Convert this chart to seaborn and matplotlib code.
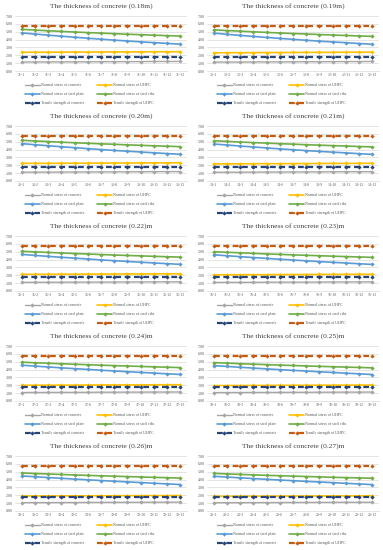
import matplotlib
matplotlib.use("Agg")
import matplotlib.pyplot as plt
import seaborn as sns
import pandas as pd
from matplotlib.lines import Line2D

sns.set_theme(style="white")
plt.rcParams['font.family'] = ['Liberation Serif', 'DejaVu Serif']

titles = ["The thickness of concrete (0.18m)", "The thickness of concrete (0.19m)",
          "The thickness of concrete (0.20m)", "The thickness of concrete (0.21m)",
          "The thickness of concrete (0.22)m", "The thickness of concrete (0.23)m",
          "The thickness of concrete (0.24)m", "The thickness of concrete (0.25)m",
          "The thickness of concrete (0.26)m", "The thickness of concrete (0.27)m"]
prefixes = ["11", "12", "13", "14", "15", "16", "17", "18", "19", "20"]
steps = ["1", "2", "3", "4", "5", "6", "7", "8", "9", "10", "11", "12", "13"]

concrete = [
    [1.14, 1.15, 1.15, 1.16, 1.17, 1.17, 1.18, 1.19, 1.19, 1.20, 1.21, 1.21, 1.22],
    [1.13, 1.14, 1.14, 1.15, 1.16, 1.16, 1.17, 1.18, 1.18, 1.19, 1.20, 1.20, 1.21],
    [1.12, 1.13, 1.13, 1.14, 1.15, 1.15, 1.16, 1.17, 1.17, 1.18, 1.19, 1.19, 1.20],
    [1.11, 1.12, 1.12, 1.13, 1.14, 1.14, 1.15, 1.16, 1.16, 1.17, 1.18, 1.18, 1.19],
    [1.10, 1.11, 1.11, 1.12, 1.13, 1.13, 1.14, 1.14, 1.15, 1.16, 1.16, 1.17, 1.17],
    [1.09, 1.10, 1.10, 1.11, 1.12, 1.12, 1.13, 1.13, 1.14, 1.15, 1.15, 1.16, 1.16],
    [1.08, 1.09, 1.09, 1.10, 1.10, 1.11, 1.12, 1.12, 1.13, 1.13, 1.14, 1.14, 1.15],
    [1.07, 1.08, 1.08, 1.09, 1.09, 1.10, 1.11, 1.11, 1.12, 1.12, 1.13, 1.13, 1.14],
    [1.06, 1.07, 1.07, 1.08, 1.08, 1.09, 1.10, 1.10, 1.11, 1.11, 1.12, 1.12, 1.13],
    [1.05, 1.06, 1.06, 1.07, 1.07, 1.08, 1.09, 1.09, 1.10, 1.10, 1.11, 1.11, 1.12],
]
uhpc = [
    [2.38, 2.39, 2.39, 2.40, 2.41, 2.41, 2.42, 2.43, 2.43, 2.44, 2.45, 2.45, 2.46],
    [2.32, 2.33, 2.33, 2.34, 2.35, 2.35, 2.36, 2.37, 2.37, 2.38, 2.39, 2.39, 2.40],
    [2.24, 2.25, 2.25, 2.26, 2.27, 2.27, 2.28, 2.29, 2.29, 2.30, 2.31, 2.31, 2.32],
    [2.18, 2.19, 2.19, 2.20, 2.21, 2.21, 2.22, 2.22, 2.23, 2.24, 2.24, 2.25, 2.26],
    [2.12, 2.13, 2.13, 2.14, 2.14, 2.15, 2.16, 2.16, 2.17, 2.17, 2.18, 2.19, 2.19],
    [2.06, 2.07, 2.07, 2.08, 2.08, 2.09, 2.10, 2.10, 2.11, 2.11, 2.12, 2.13, 2.13],
    [2.00, 2.01, 2.01, 2.02, 2.02, 2.03, 2.04, 2.04, 2.05, 2.05, 2.06, 2.07, 2.07],
    [1.96, 1.97, 1.97, 1.98, 1.98, 1.99, 2.00, 2.00, 2.01, 2.01, 2.02, 2.02, 2.03],
    [1.90, 1.91, 1.91, 1.92, 1.92, 1.93, 1.94, 1.94, 1.95, 1.95, 1.96, 1.96, 1.97],
    [1.86, 1.87, 1.87, 1.88, 1.88, 1.89, 1.90, 1.90, 1.91, 1.91, 1.92, 1.92, 1.93],
]
plate = [
    [4.85, 4.70, 4.56, 4.43, 4.30, 4.17, 4.05, 3.93, 3.82, 3.71, 3.61, 3.51, 3.41],
    [4.82, 4.67, 4.53, 4.40, 4.27, 4.15, 4.03, 3.91, 3.80, 3.70, 3.60, 3.50, 3.40],
    [4.76, 4.62, 4.49, 4.36, 4.24, 4.12, 4.00, 3.89, 3.79, 3.69, 3.59, 3.49, 3.40],
    [4.71, 4.58, 4.45, 4.33, 4.21, 4.09, 3.98, 3.87, 3.77, 3.67, 3.58, 3.48, 3.39],
    [4.66, 4.53, 4.41, 4.29, 4.18, 4.07, 3.96, 3.86, 3.76, 3.66, 3.57, 3.48, 3.39],
    [4.61, 4.49, 4.37, 4.26, 4.15, 4.04, 3.94, 3.84, 3.74, 3.65, 3.56, 3.47, 3.38],
    [4.56, 4.44, 4.33, 4.22, 4.12, 4.02, 3.92, 3.82, 3.73, 3.64, 3.55, 3.46, 3.38],
    [4.51, 4.40, 4.29, 4.19, 4.09, 3.99, 3.90, 3.81, 3.72, 3.63, 3.54, 3.46, 3.37],
    [4.47, 4.36, 4.26, 4.16, 4.06, 3.97, 3.88, 3.79, 3.70, 3.62, 3.53, 3.45, 3.37],
    [4.42, 4.32, 4.22, 4.13, 4.03, 3.94, 3.86, 3.77, 3.69, 3.61, 3.52, 3.44, 3.36],
]
ribs = [
    [5.30, 5.21, 5.12, 5.04, 4.96, 4.89, 4.82, 4.75, 4.68, 4.62, 4.56, 4.50, 4.45],
    [5.24, 5.15, 5.07, 4.99, 4.91, 4.84, 4.77, 4.71, 4.64, 4.58, 4.52, 4.46, 4.41],
    [5.18, 5.10, 5.02, 4.94, 4.87, 4.80, 4.73, 4.67, 4.60, 4.54, 4.48, 4.43, 4.37],
    [5.12, 5.04, 4.96, 4.89, 4.82, 4.75, 4.69, 4.62, 4.56, 4.50, 4.45, 4.39, 4.34],
    [5.06, 4.98, 4.91, 4.84, 4.77, 4.71, 4.64, 4.58, 4.52, 4.47, 4.41, 4.36, 4.31],
    [5.00, 4.93, 4.86, 4.79, 4.72, 4.66, 4.60, 4.54, 4.49, 4.43, 4.38, 4.33, 4.28],
    [4.94, 4.87, 4.80, 4.74, 4.68, 4.62, 4.56, 4.50, 4.45, 4.40, 4.35, 4.30, 4.25],
    [4.89, 4.82, 4.75, 4.69, 4.63, 4.57, 4.52, 4.46, 4.41, 4.36, 4.31, 4.27, 4.22],
    [4.84, 4.77, 4.71, 4.65, 4.59, 4.53, 4.48, 4.43, 4.38, 4.33, 4.28, 4.24, 4.19],
    [4.79, 4.72, 4.66, 4.60, 4.54, 4.49, 4.44, 4.39, 4.34, 4.29, 4.25, 4.21, 4.17],
]
tensile_concrete = [1.80] * 10
tensile_uhpc = [5.75] * 10

series_names = ["Normal stress of concrete", "Normal stress of UHPC",
                "Normal stress of steel plate", "Normal stress of steel ribs",
                "Tensile strength of concrete", "Tensile strength of UHPC"]
colors = ["#A5A5A5", "#FFC000", "#5B9BD5", "#70AD47", "#264478", "#C55A11"]
styles = ["-", "-", "-", "-", "--", "--"]
widths = [1.0, 1.2, 1.2, 1.2, 1.6, 1.6]

W, H = 383, 550
fig = plt.figure(figsize=(W / 100, H / 100), dpi=100)
fig.patch.set_facecolor("white")

for k in range(10):
    r, c = divmod(k, 2)
    left = (15 + 192 * c) / W
    bottom = 1 - (71 + 110 * r) / H
    ax = fig.add_axes([left, bottom, 172 / W, 55 / H])
    cats = [f"{prefixes[k]}-{s}" for s in steps]
    vals = [concrete[k], uhpc[k], plate[k], ribs[k],
            [tensile_concrete[k]] * len(cats), [tensile_uhpc[k]] * len(cats)]
    handles = []
    for i, name in enumerate(series_names):
        df = pd.DataFrame({"x": cats, "y": vals[i]})
        sns.lineplot(data=df, x="x", y="y", ax=ax, sort=False, color=colors[i],
                     linestyle=styles[i], linewidth=widths[i], marker="D",
                     markersize=2.2, markeredgewidth=0, zorder=3 + i)
        if styles[i] == "--":
            ax.lines[-1].set_dashes((2.6, 1.6))
        h = Line2D([], [], color=colors[i], linestyle=styles[i], linewidth=widths[i],
                   marker="D", markersize=2.2, markeredgewidth=0)
        if styles[i] == "--":
            h.set_dashes((2.6, 1.6))
        handles.append(h)
    ax.set_xlim(-0.5, len(cats) - 0.5)
    ax.set_ylim(0, 7)
    ax.set_yticks([0, 1, 2, 3, 4, 5, 6, 7])
    ax.set_yticklabels([f"{v:.2f}" for v in range(8)])
    ax.yaxis.grid(True, color="#D9D9D9", linewidth=0.5)
    ax.set_axisbelow(True)
    for sp in ["top", "right", "left"]:
        ax.spines[sp].set_visible(False)
    ax.spines["bottom"].set_color("#D9D9D9")
    ax.spines["bottom"].set_linewidth(0.5)
    ax.tick_params(axis="both", length=0, pad=1.5, labelsize=2.8, colors="#595959")
    ax.tick_params(axis="y", labelsize=2.9)
    ax.set_xlabel("")
    ax.set_ylabel("")
    ax.set_title(titles[k], fontsize=5.4, color="#404040", pad=6.3)
    order = [0, 2, 4, 1, 3, 5]
    ax.legend([handles[j] for j in order], [series_names[j] for j in order],
              ncol=2, loc="upper left", bbox_to_anchor=(0.058, -0.225),
              borderaxespad=0, frameon=False, fontsize=2.9, handlelength=3.7,
              handletextpad=0.3, columnspacing=3.2, labelspacing=1.2, borderpad=0,
              labelcolor="#595959")

fig.savefig("out.png", dpi=100, facecolor="white")
